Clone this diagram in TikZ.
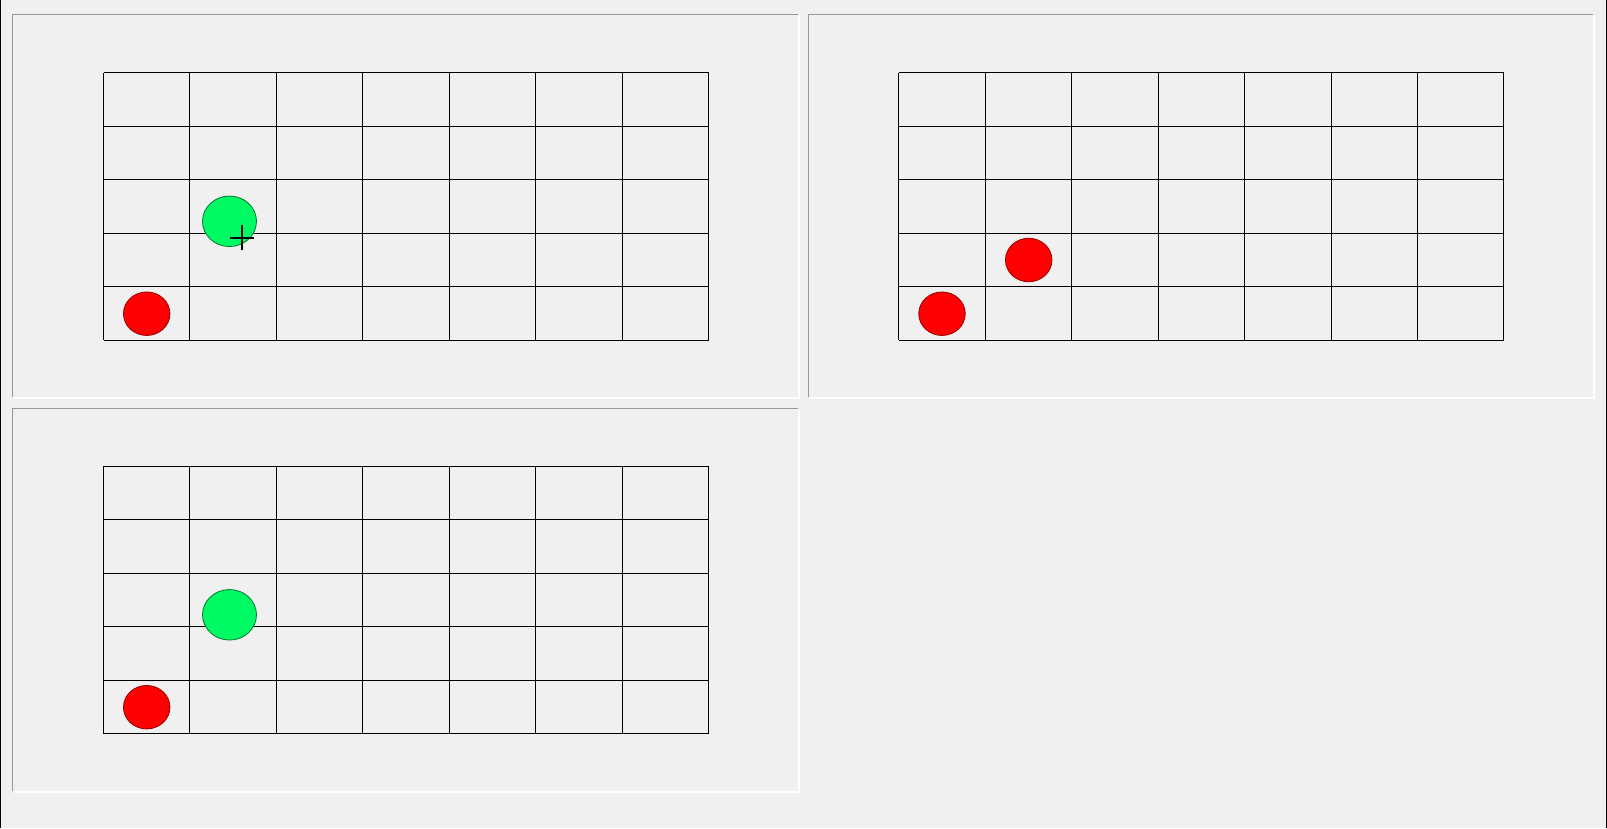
\documentclass[tikz,border=0pt]{standalone}
\usetikzlibrary{shapes.geometric}
\definecolor{bgc}{HTML}{F0F0F0}
\definecolor{etchgray}{HTML}{989898}
\definecolor{ballred}{RGB}{255,0,0}
\definecolor{ballredline}{RGB}{150,0,0}
\definecolor{ballgreen}{RGB}{0,250,100}
\definecolor{ballgreenline}{RGB}{0,120,40}
\tikzset{
  gridline/.style={draw=black,line width=0.9pt},
  etchdark/.style={draw=etchgray,line width=1.8pt},
  etchlight/.style={draw=white,line width=1.8pt},
  redball/.style={ellipse,draw=ballredline,fill=ballred,line width=0.8pt,minimum width=46.5pt,minimum height=43.5pt,inner sep=0pt},
  greenball/.style={ellipse,draw=ballgreenline,fill=ballgreen,line width=0.8pt,minimum width=54pt,minimum height=50.5pt,inner sep=0pt},
  cursorline/.style={draw=black,line width=2pt}
}
\newcommand{\panelbox}[4]{%
  \draw[etchlight] (#1+1.5,#4) -- (#3,#4) -- (#3,#2+1.5);
  \draw[etchdark] (#1,#4-1) -- (#1,#2) -- (#3-1,#2);
}
\newcommand{\cellgrid}[2]{%
  \foreach \i in {0,...,7} {\draw[gridline] (#1+\i*86.43,#2) -- (#1+\i*86.43,#2+267.5);}
  \foreach \j in {0,...,5} {\draw[gridline] (#1,#2+\j*53.5) -- (#1+605,#2+\j*53.5);}
}
\begin{document}
\begin{tikzpicture}[x=1pt,y=-1pt]
\useasboundingbox (0,0) rectangle (1607,828);
\fill[bgc] (0,0) rectangle (1607,828);
\draw[black,line width=1.2pt] (0.6,0) -- (0.6,828);
\draw[black,line width=1.2pt] (1606.4,0) -- (1606.4,828);
% panels
\panelbox{12.5}{14.5}{799}{398}
\panelbox{808.5}{14.5}{1594}{398}
\panelbox{12.5}{408.5}{799}{792}
% grids
\cellgrid{103.5}{72.8}
\cellgrid{898.8}{72.8}
\cellgrid{103.5}{466.3}
% panel 1
\node[greenball] (g1) at (229.5,221.3) {};
\node[redball] (r1) at (146.7,313.7) {};
\coordinate (cur) at (241.7,237.7);
\draw[cursorline] ([xshift=-12pt]cur) -- ([xshift=12pt]cur);
\draw[cursorline] ([yshift=-12.5pt]cur) -- ([yshift=12.5pt]cur);
% panel 2
\node[redball] (r2a) at (1028.7,260) {};
\node[redball] (r2b) at (942,313.7) {};
% panel 3
\node[greenball] (g3) at (229.5,614.8) {};
\node[redball] (r3) at (146.7,707.2) {};
\end{tikzpicture}
\end{document}
